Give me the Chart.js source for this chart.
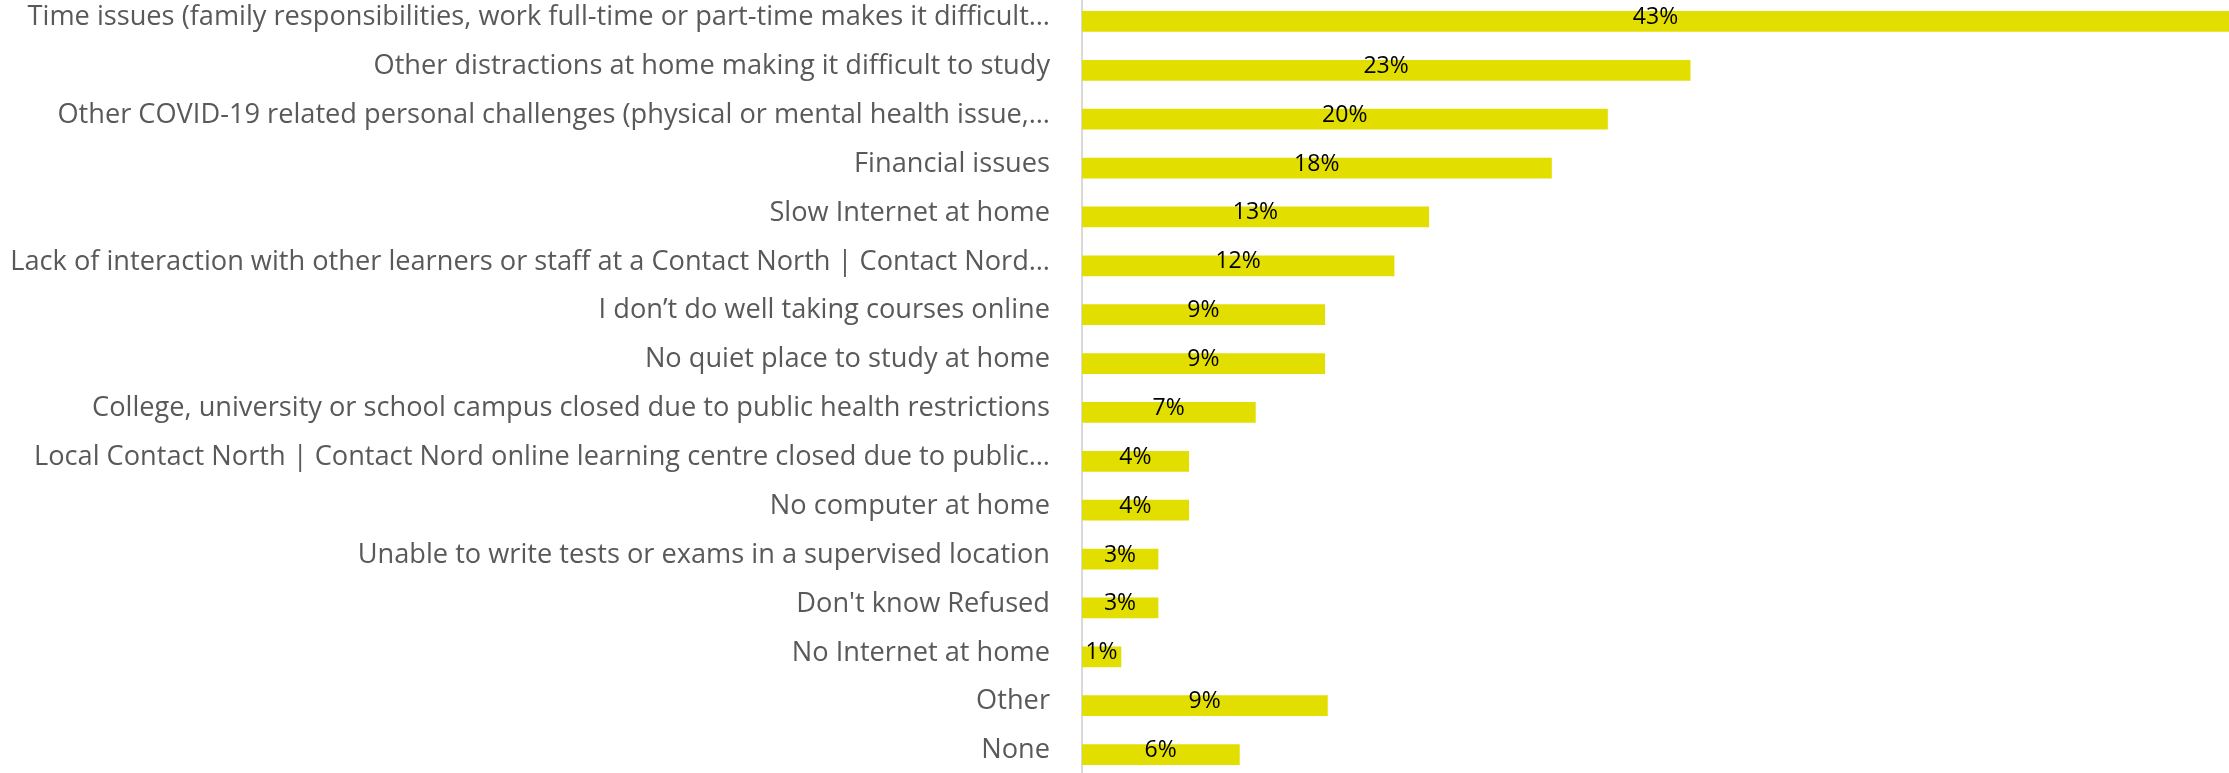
<!DOCTYPE html>
<html>
<head>
<meta charset="utf-8">
<script src="https://cdn.jsdelivr.net/npm/chart.js@4"></script>
<style>
  html, body { margin: 0; padding: 0; background: #fff; overflow: hidden; }
  #wrap { position: absolute; left: 0; top: -3px; width: 2229px; height: 782px; }
</style>
</head>
<body>
<div id="wrap"><canvas id="barChart"></canvas></div>
<script>
// Reasons making it difficult to study (share of respondents, %)
const categories = [
    'Time issues (family responsibilities, work full-time or part-time makes it difficult…',
    'Other distractions at home making it difficult to study',
    'Other COVID-19 related personal challenges (physical or mental health issue,…',
    'Financial issues',
    'Slow Internet at home',
    'Lack of interaction with other learners or staff at a Contact North | Contact Nord…',
    'I don’t do well taking courses online',
    'No quiet place to study at home',
    'College, university or school campus closed due to public health restrictions',
    'Local Contact North | Contact Nord online learning centre closed due to public…',
    'No computer at home',
    'Unable to write tests or exams in a supervised location',
    "Don't know Refused",
    'No Internet at home',
    'Other',
    'None'
];

const shares = [43.0, 22.8, 19.7, 17.6, 13.0, 11.7, 9.1, 9.1, 6.5, 4.0, 4.0, 2.85, 2.85, 1.46, 9.2, 5.9];

const FONT = '"Open Sans", sans-serif';

// simple centred value labels, no datalabels plugin available offline
const barLabels = {
    id: 'barLabels',
    afterDatasetsDraw(chart) {
        const ctx = chart.ctx;
        const meta = chart.getDatasetMeta(0);
        ctx.save();
        ctx.font = '23px ' + FONT;
        ctx.fillStyle = '#000';
        ctx.textAlign = 'center';
        ctx.textBaseline = 'middle';
        meta.data.forEach((bar, i) => {
            const x = (bar.base + bar.x) / 2;
            ctx.fillText(Math.round(shares[i]) + '%', x, bar.y - 4);
        });
        ctx.restore();
    }
};

new Chart(document.getElementById('barChart'), {
    type: 'bar',
    data: {
        labels: categories,
        datasets: [{
            data: shares,
            backgroundColor: '#e2de00',
            barThickness: 20
        }]
    },
    options: {
        indexAxis: 'y',
        responsive: true,
        maintainAspectRatio: false,
        animation: false,
        layout: { padding: 0 },
        plugins: {
            legend: { display: false },
            tooltip: { enabled: false }
        },
        scales: {
            x: {
                display: false,
                min: 0,
                max: 43
            },
            y: {
                afterFit(scale) {
                    scale.width = 1082;
                    scale.paddingTop = 0;
                    scale.paddingBottom = 0;
                },
                grid: { display: false },
                border: { color: '#d9d9d9', width: 2 },
                ticks: {
                    color: '#595959',
                    padding: 24,
                    labelOffset: -4,
                    autoSkip: false,
                    font: { family: FONT, size: 27.2 }
                }
            }
        }
    },
    plugins: [barLabels]
});
</script>
</body>
</html>
